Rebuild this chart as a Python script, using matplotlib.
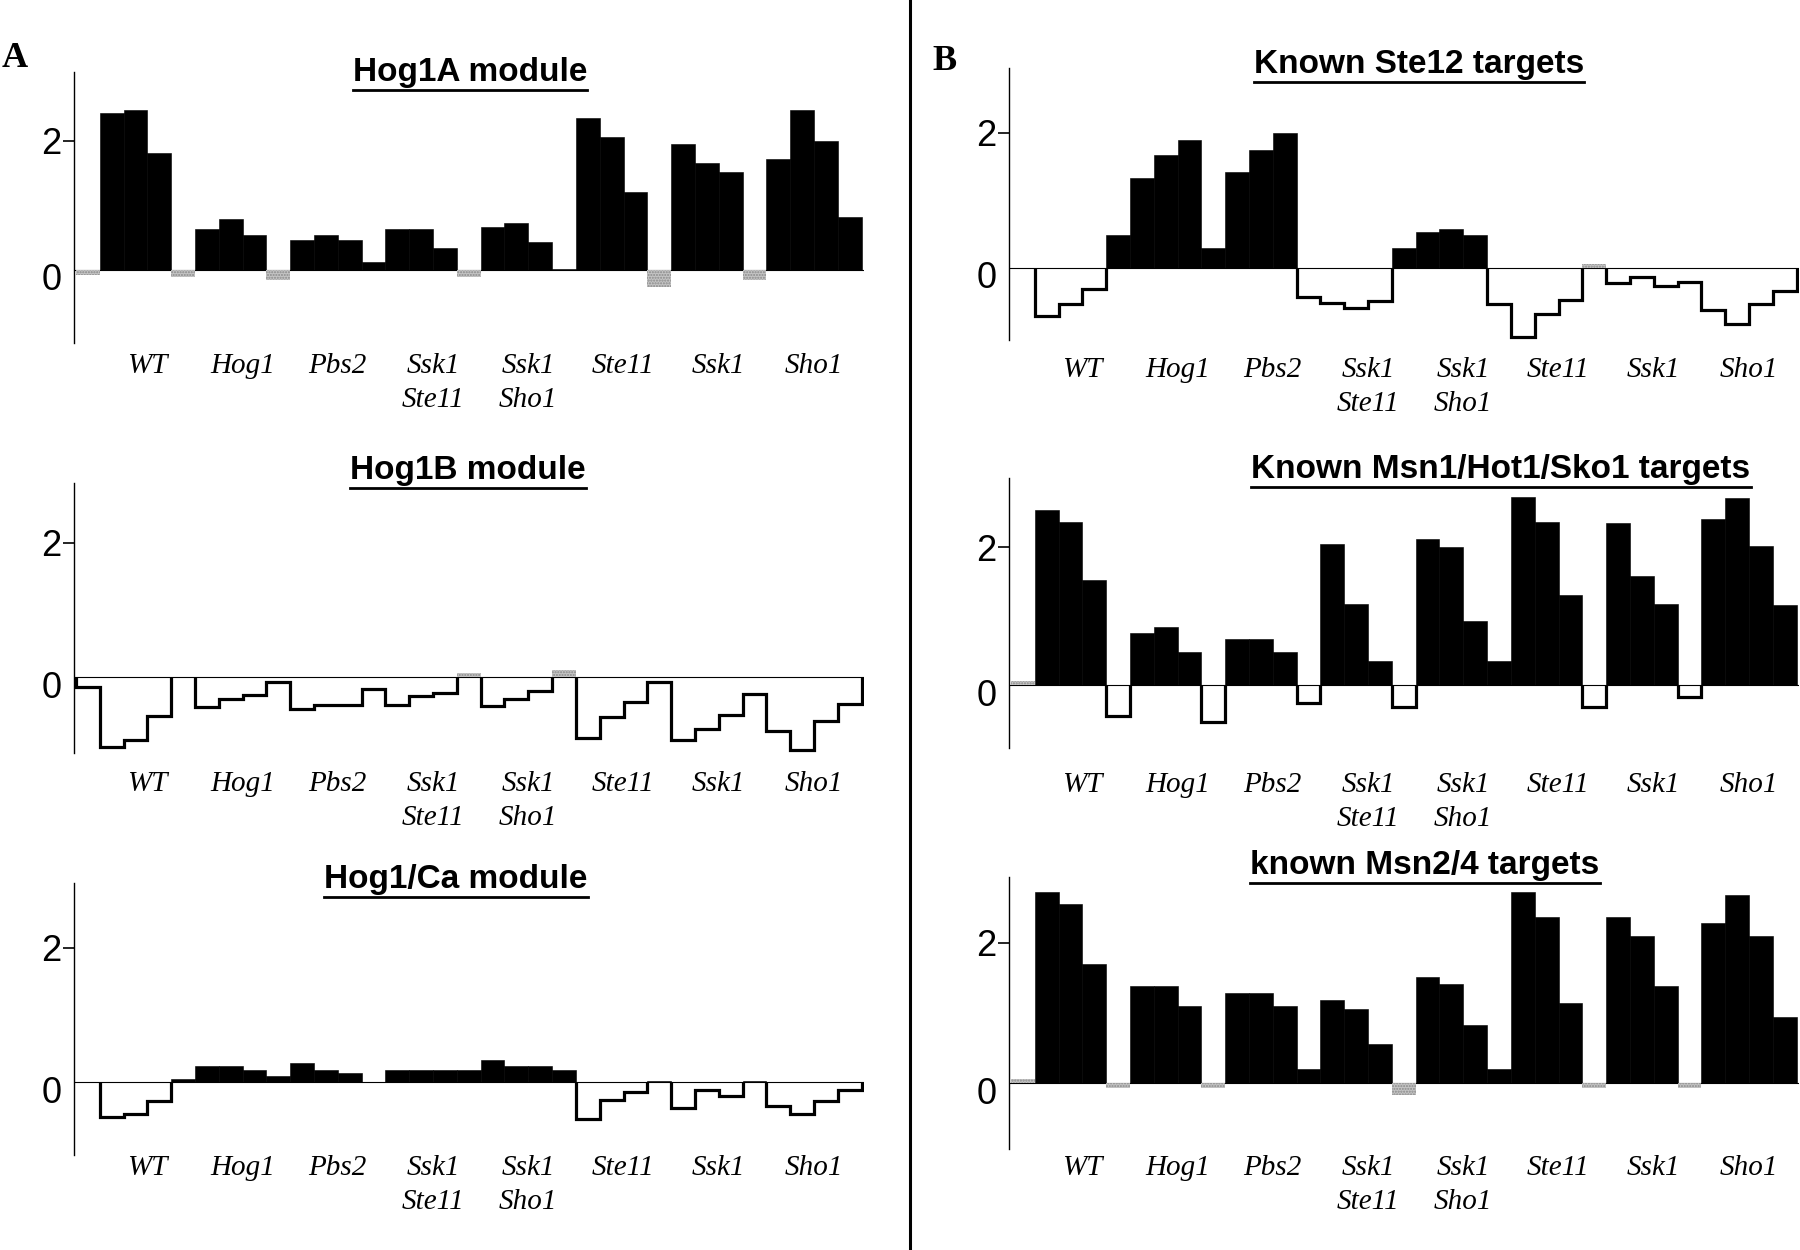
import numpy as np
import matplotlib
matplotlib.use("Agg")
import matplotlib.pyplot as plt
from matplotlib.lines import Line2D
from matplotlib.transforms import ScaledTranslation, blended_transform_factory

# strain labels under each group of four bars
strains = ["WT", "Hog1", "Pbs2", "Ssk1\nSte11", "Ssk1\nSho1", "Ste11", "Ssk1", "Sho1"]

titles = ["Hog1A module", "Hog1B module", "Hog1/Ca module",
          "Known Ste12 targets", "Known Msn1/Hot1/Sko1 targets", "known Msn2/4 targets"]

# mean log ratio for each of the 33 columns
hog1a = [-0.08, 2.43, 2.48, 1.80, -0.11, 0.63, 0.78, 0.54, -0.16, 0.47, 0.54,
         0.47, 0.13, 0.63, 0.63, 0.34, -0.11, 0.67, 0.72, 0.43, 0.01, 2.35,
         2.05, 1.21, -0.27, 1.95, 1.66, 1.52, -0.16, 1.71, 2.48, 2.00, 0.82]
hog1b = [-0.15, -1.04, -0.94, -0.58, 0.0, -0.45, -0.33, -0.26, -0.07, -0.47, -0.41,
         -0.41, -0.18, -0.41, -0.28, -0.23, 0.06, -0.43, -0.32, -0.20, 0.10, -0.91,
         -0.60, -0.37, -0.08, -0.94, -0.77, -0.57, -0.25, -0.80, -1.09, -0.66, -0.40]
hog1ca = [0.0, -0.52, -0.47, -0.28, 0.05, 0.24, 0.24, 0.18, 0.10, 0.28, 0.18,
          0.14, 0.0, 0.18, 0.18, 0.18, 0.18, 0.33, 0.24, 0.24, 0.18, -0.54,
          -0.27, -0.15, 0.02, -0.38, -0.11, -0.20, 0.02, -0.35, -0.47, -0.28, -0.12]
ste12 = [0.0, -0.71, -0.53, -0.32, 0.49, 1.33, 1.67, 1.89, 0.30, 1.42, 1.75,
         1.99, -0.44, -0.52, -0.59, -0.49, 0.30, 0.53, 0.58, 0.48, -0.53, -1.02,
         -0.68, -0.47, 0.05, -0.22, -0.13, -0.27, -0.21, -0.63, -0.84, -0.54, -0.35]
msn1 = [0.06, 2.54, 2.36, 1.53, -0.45, 0.76, 0.84, 0.48, -0.53, 0.67, 0.67,
        0.48, -0.26, 2.04, 1.17, 0.35, -0.31, 2.12, 2.00, 0.93, 0.35, 2.72,
        2.36, 1.30, -0.32, 2.35, 1.58, 1.17, -0.17, 2.40, 2.71, 2.02, 1.16]
msn24 = [0.06, 2.73, 2.56, 1.70, -0.07, 1.38, 1.38, 1.10, -0.07, 1.29, 1.29,
         1.10, 0.20, 1.19, 1.06, 0.56, -0.17, 1.51, 1.42, 0.83, 0.20, 2.73,
         2.37, 1.14, -0.07, 2.37, 2.10, 1.38, -0.07, 2.28, 2.68, 2.10, 0.95]

# columns drawn as grey (not significant)
hog1a_gray = [0, 4, 8, 16, 24, 28]
hog1b_gray = [16, 20]
hog1ca_gray = []
ste12_gray = [24]
msn1_gray = [0]
msn24_gray = [0, 4, 8, 16, 24, 28]

values = [hog1a, hog1b, hog1ca, ste12, msn1, msn24]
grays = [hog1a_gray, hog1b_gray, hog1ca_gray, ste12_gray, msn1_gray, msn24_gray]

# layout in pixels of the 1800x1250 canvas
W, H = 1800, 1250
ax_left = [74, 74, 74, 1009, 1009, 1009]
ax_top = [72, 483, 883, 68, 478, 877]
ax_bottom = [343, 753, 1155, 340, 748, 1149]
ylims = [(-1.13, 3.06), (-1.13, 2.89), (-1.08, 2.96), (-1.07, 2.96), (-0.91, 3.0), (-0.94, 2.94)]
title_x = [470, 468, 456, 1419, 1501, 1425]
title_base = [81, 479, 888, 73, 478, 874]
label_top = [353, 771, 1155, 357, 772, 1155]

sans = ["Liberation Sans", "DejaVu Sans"]
serif = ["Liberation Serif", "DejaVu Serif"]

fig = plt.figure(figsize=(W / 100, H / 100), dpi=100)


def fx(px):
    return px / W


def fy(py):
    return 1 - py / H


title_texts = []
for i in range(6):
    v = np.array(values[i])
    n = len(v)
    x = np.arange(n)
    ax = fig.add_axes([fx(ax_left[i]), fy(ax_bottom[i]), 790 / W, (ax_bottom[i] - ax_top[i]) / H])
    ax.set_xlim(-0.08, n + 0.1)
    ax.set_ylim(*ylims[i])

    gray = np.zeros(n, dtype=bool)
    gray[grays[i]] = True
    pos = (v > 0) & ~gray
    ax.axhline(0, color="black", lw=0.8, zorder=1)
    ax.bar(x[pos], v[pos], width=1.0, align="edge", color="black",
           edgecolor="black", lw=0.4, zorder=2)
    ax.bar(x[gray], v[gray], width=1.0, align="edge", color="#c4c4c4",
           edgecolor="#8a8a8a", hatch="......", lw=0, zorder=2)

    # negative columns: white with a stepped outline
    neg = (v < 0) & ~gray
    j = 0
    while j < n:
        if neg[j]:
            k = j
            while k + 1 < n and neg[k + 1]:
                k += 1
            ax.stairs(v[j:k + 1], np.arange(j, k + 2), baseline=0,
                      color="black", lw=2.3, zorder=3)
            j = k + 1
        else:
            j += 1

    for s in ["top", "right", "bottom"]:
        ax.spines[s].set_visible(False)
    ax.spines["left"].set_linewidth(1.0)
    ax.set_xticks([])
    ax.set_yticks([0, 2])
    ax.set_yticklabels(["0", "2"], family=sans, fontsize=26)
    ax.tick_params(axis="y", length=8, width=1.2, pad=1)
    t0 = ax.yaxis.get_major_ticks()[0]
    t0.tick1line.set_visible(False)
    t0.label1.set_transform(t0.label1.get_transform() +
                            ScaledTranslation(0, -0.07, fig.dpi_scale_trans))

    trans = blended_transform_factory(ax.transData, ax.transAxes)
    ly = (ax_bottom[i] - label_top[i]) / (ax_bottom[i] - ax_top[i])
    for g, name in enumerate(strains):
        ax.text(4 * g + 3, ly, name, transform=trans, ha="center", va="top",
                family=serif, style="italic", fontsize=21, linespacing=1.4)

    t = fig.text(fx(title_x[i]), fy(title_base[i]), titles[i], ha="center",
                 va="baseline", family=sans, weight="bold", fontsize=24)
    title_texts.append((t, title_base[i]))

fig.text(fx(2), fy(67), "A", family=serif, weight="bold", fontsize=26, va="baseline")
fig.text(fx(932), fy(70), "B", family=serif, weight="bold", fontsize=26, va="baseline")
fig.add_artist(Line2D([fx(910), fx(910)], [0, 1], color="black", lw=2.2))

# underline the titles
fig.canvas.draw()
r = fig.canvas.get_renderer()
for t, base in title_texts:
    bb = t.get_window_extent(r)
    fig.add_artist(Line2D([bb.x0 / W, bb.x1 / W], [fy(base + 9), fy(base + 9)],
                          color="black", lw=2.0))

fig.savefig("out.png", dpi=100)
